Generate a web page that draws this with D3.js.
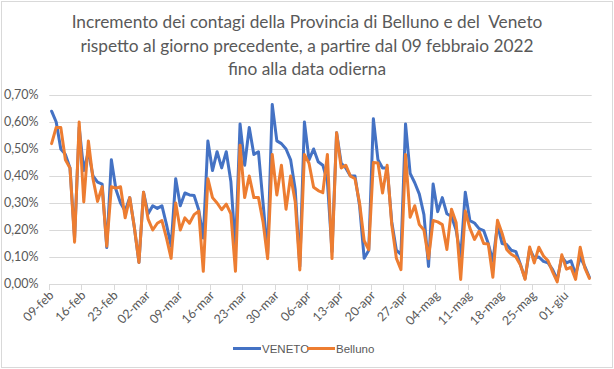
<!DOCTYPE html>
<html><head><meta charset="utf-8">
<script src="https://cdn.jsdelivr.net/npm/d3@7"></script>
<style>body{margin:0;background:#fff}svg{display:block}</style>
</head><body>
<script>
// ---- data ----
const startDate = "2022-02-09", endDate = "2022-06-06";
const tickLabels = ["09-feb","16-feb","23-feb","02-mar","09-mar","16-mar","23-mar","30-mar","06-apr","13-apr","20-apr","27-apr","04-mag","11-mag","18-mag","25-mag","01-giu"];
const yTicks = [0,0.1,0.2,0.3,0.4,0.5,0.6,0.7];
const veneto = [0.64,0.60,0.50,0.48,0.43,0.17,0.58,0.42,0.49,0.40,0.377,0.37,0.135,0.46,0.35,0.30,0.27,0.32,0.21,0.08,
0.34,0.26,0.29,0.28,0.29,0.22,0.14,0.39,0.29,0.337,0.33,0.328,0.275,0.17,0.53,0.42,0.49,0.43,0.49,0.38,
0.13,0.593,0.44,0.58,0.48,0.49,0.30,0.11,0.665,0.53,0.52,0.50,0.46,0.35,0.065,0.60,0.46,0.50,0.453,0.44,
0.38,0.12,0.56,0.447,0.43,0.40,0.40,0.29,0.095,0.125,0.612,0.46,0.43,0.43,0.23,0.125,0.11,0.593,0.41,0.375,
0.333,0.257,0.065,0.37,0.268,0.32,0.26,0.25,0.20,0.10,0.34,0.235,0.226,0.205,0.198,0.15,0.084,0.22,0.15,0.146,
0.125,0.12,0.072,0.02,0.13,0.096,0.10,0.084,0.078,0.053,0.016,0.10,0.078,0.086,0.035,0.10,0.065,0.025];
const belluno = [0.52,0.58,0.58,0.46,0.43,0.155,0.60,0.304,0.53,0.39,0.306,0.36,0.14,0.36,0.355,0.36,0.245,0.32,0.21,0.08,
0.34,0.24,0.20,0.225,0.235,0.17,0.095,0.30,0.20,0.245,0.225,0.257,0.27,0.047,0.39,0.32,0.30,0.275,0.296,0.26,
0.047,0.514,0.32,0.40,0.32,0.32,0.23,0.094,0.48,0.33,0.44,0.277,0.40,0.305,0.052,0.48,0.447,0.358,0.346,0.338,
0.48,0.094,0.56,0.43,0.44,0.40,0.39,0.30,0.16,0.127,0.45,0.448,0.337,0.44,0.22,0.096,0.053,0.48,0.247,0.29,
0.22,0.20,0.094,0.235,0.23,0.22,0.128,0.277,0.228,0.017,0.27,0.207,0.165,0.195,0.15,0.148,0.025,0.236,0.188,0.128,
0.11,0.10,0.07,0.017,0.137,0.078,0.136,0.104,0.086,0.045,0.008,0.108,0.055,0.062,0.017,0.136,0.06,0.021];
const seriesNames = ["VENETO","Belluno"];
const titleLines = ["Incremento dei contagi della Provincia di Belluno e del  Veneto","rispetto al giorno precedente, a partire dal 09 febbraio 2022","fino alla data odierna"];

// categories (one per day)
const months = ["gen","feb","mar","apr","mag","giu","lug","ago","set","ott","nov","dic"];
const parse = d3.utcParse("%Y-%m-%d");
const categories = d3.utcDay.range(parse(startDate), d3.utcDay.offset(parse(endDate),1))
  .map(d => d3.utcFormat("%d")(d) + "-" + months[d.getUTCMonth()]);

// ---- layout ----
const W = 614, H = 369;
const svg = d3.select("body").append("svg").attr("width", W).attr("height", H);
svg.append("rect").attr("x",1.5).attr("y",1.5).attr("width",W-3).attr("height",H-3)
  .attr("fill","#fff").attr("stroke","#d9d9d9");

const x = d3.scaleBand().domain(categories).range([49.3, 591.7]).padding(0);
const y = d3.scaleLinear().domain([0, 0.7]).range([284, 95]);
const loc = d3.formatLocale({decimal:",", thousands:".", grouping:[3], currency:["€",""]});
const fmt = v => loc.format(".2f")(v) + "%";
const textCol = "#595959";
const font = "Lato, 'Open Sans', sans-serif";

// gridlines
svg.append("g").selectAll("line").data(yTicks).join("line")
  .attr("x1", 49.3).attr("x2", 591.7)
  .attr("y1", d => Math.round(y(d))+0.5).attr("y2", d => Math.round(y(d))+0.5)
  .attr("stroke", "#d9d9d9").attr("stroke-width", 1);

// y labels
svg.append("g").selectAll("text").data(yTicks).join("text")
  .attr("x", 38.5).attr("y", d => y(d)).attr("dy","0.35em")
  .attr("text-anchor","end").attr("font-family", font).attr("font-size", 12.5)
  .attr("fill", textCol).text(fmt);

// x ticks & labels
const tickCats = categories.filter(c => tickLabels.includes(c));
const xa = svg.append("g");
xa.selectAll("line").data(tickCats).join("line")
  .attr("x1", d => Math.round(x(d))+0.5).attr("x2", d => Math.round(x(d))+0.5)
  .attr("y1", 284).attr("y2", 290).attr("stroke","#d9d9d9");
xa.selectAll("text").data(tickCats).join("text")
  .attr("transform", d => `translate(${x(d)+2},${293}) rotate(-45)`)
  .attr("text-anchor","end").attr("dy","0.35em")
  .attr("font-family", font).attr("font-size", 12.5).attr("fill", textCol)
  .text(d => d);

// lines
const colors = ["#4472C4", "#ED7D31"];
const line = d3.line().x((d,i) => x(categories[i]) + x.bandwidth()/2).y(d => y(d));
[veneto, belluno].forEach((s, k) => {
  svg.append("path").datum(s).attr("d", line).attr("fill","none")
    .attr("stroke", colors[k]).attr("stroke-width", 3)
    .attr("stroke-linejoin","round").attr("stroke-linecap","round");
});

// title
const tg = svg.append("g");
const tt = tg.selectAll("text").data(titleLines).join("text")
  .attr("x", 307).attr("y", (d,i) => 28 + i*23.5).attr("text-anchor","middle")
  .attr("font-family", font).attr("font-size", 19).attr("fill", textCol)
  .style("white-space","pre").text(d => d);
// scale font so first line matches reference width (~471px)
const w0 = tt.nodes()[0].getComputedTextLength();
tt.attr("font-size", 19 * 471 / w0);

// legend
const lg = svg.append("g");
const legX = [233, 307];
seriesNames.forEach((n, k) => {
  lg.append("line").attr("x1", legX[k]).attr("x2", legX[k]+28).attr("y1", 348.5).attr("y2", 348.5)
    .attr("stroke", colors[k]).attr("stroke-width", 3);
  lg.append("text").attr("x", legX[k]+29).attr("y", 348.5).attr("dy","0.35em")
    .attr("font-family","'Liberation Sans', Arial, sans-serif").attr("font-size", 11.5)
    .attr("fill", textCol).text(n);
});
</script>
</body></html>
